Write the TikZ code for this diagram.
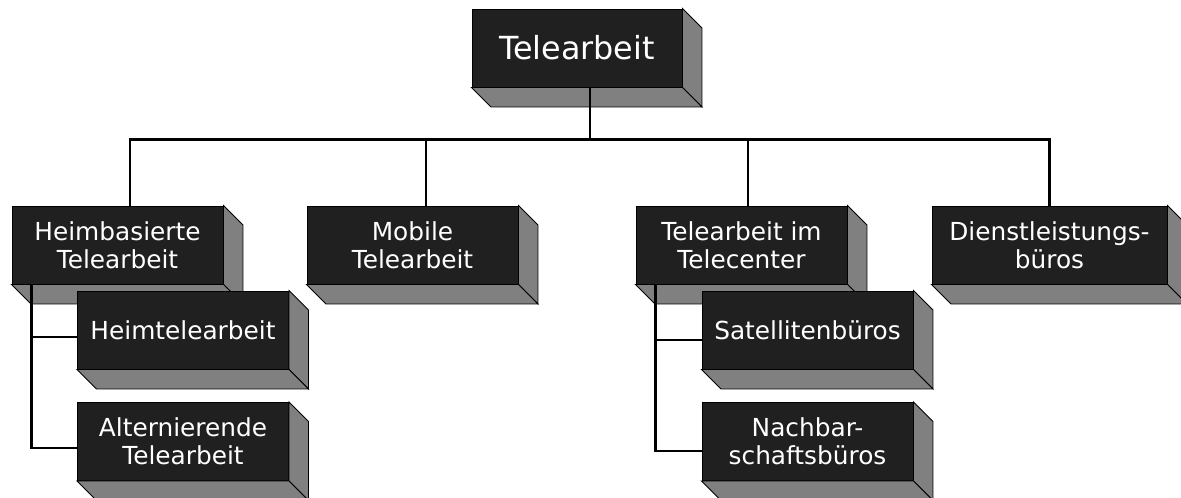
\documentclass[tikz,border=0pt]{standalone}
\usepackage{fontspec}
\setmainfont{DejaVu Sans}
\definecolor{frontc}{HTML}{202020}
\definecolor{sidec}{HTML}{808080}
\newcommand\boxdepth[1]{%
  \filldraw[sideface] (#1.north east) -- ++(19.5,19.5) -- ([shift={(19.5,19.5)}]#1.south east) -- (#1.south east) -- cycle;
  \filldraw[sideface] (#1.south west) -- (#1.south east) -- ++(19.5,19.5) -- ([shift={(19.5,19.5)}]#1.south west) -- cycle;}
\begin{document}
\begin{tikzpicture}[x=1pt,y=-1pt,
  sideface/.style={fill=sidec,draw=black,line width=0.9pt,line join=miter},
  box3d/.style={rectangle,draw=black,line width=0.9pt,fill=frontc,text=white,
    minimum width=211pt,minimum height=78pt,inner sep=0pt,align=center,
    font=\fontsize{24.8}{28}\selectfont},
  topbox/.style={box3d,minimum width=210pt,font=\fontsize{31.8}{38}\selectfont},
  conn/.style={draw=black,line width=2.6pt}]
\useasboundingbox (0,0) rectangle (1181,498);
\clip (0,0) rectangle (1181,498);
% boxes
\node[topbox] (top) at (577,48) {Telearbeit};
\boxdepth{top}
\node[box3d] (hb) at (117.5,245) {Heimbasierte\\Telearbeit};
\boxdepth{hb}
\node[box3d] (mob) at (412.5,245) {Mobile\\Telearbeit};
\boxdepth{mob}
\node[box3d] (tc) at (741.5,245) {Telearbeit im\\Telecenter};
\boxdepth{tc}
\node[box3d,minimum width=235pt] (dl) at (1049.5,245) {Dienstleistungs-\\büros};
\boxdepth{dl}
\node[box3d] (ht) at (183,330) {Heimtelearbeit};
\boxdepth{ht}
\node[box3d] (alt) at (183,441.5) {Alternierende\\Telearbeit};
\boxdepth{alt}
\node[box3d] (sat) at (807.5,330) {Satellitenbüros};
\boxdepth{sat}
\node[box3d] (nach) at (807.5,441.5) {Nachbar-\\schaftsbüros};
\boxdepth{nach}
% connectors
\draw[conn] ([xshift=13pt]top.south) -- ++(0,53);
\draw[conn] ([xshift=12.5pt]hb.north) -- ++(0,-66) -| (dl.north);
\draw[conn] ([xshift=13.5pt]mob.north) -- ++(0,-66);
\draw[conn] ([xshift=6.5pt]tc.north) -- ++(0,-66);
\coordinate (hbdrop) at ([xshift=20pt]hb.south west);
\coordinate (tcdrop) at ([xshift=20pt]tc.south west);
\coordinate (htin) at ([yshift=-7pt]ht.west);
\coordinate (altin) at ([yshift=-6.5pt]alt.west);
\coordinate (satin) at ([yshift=-10pt]sat.west);
\coordinate (nachin) at ([yshift=-9.5pt]nach.west);
\draw[conn] (hbdrop) |- (altin);
\draw[conn] (hbdrop |- htin) -- (htin);
\draw[conn] (tcdrop) |- (nachin);
\draw[conn] (tcdrop |- satin) -- (satin);
\end{tikzpicture}
\end{document}
